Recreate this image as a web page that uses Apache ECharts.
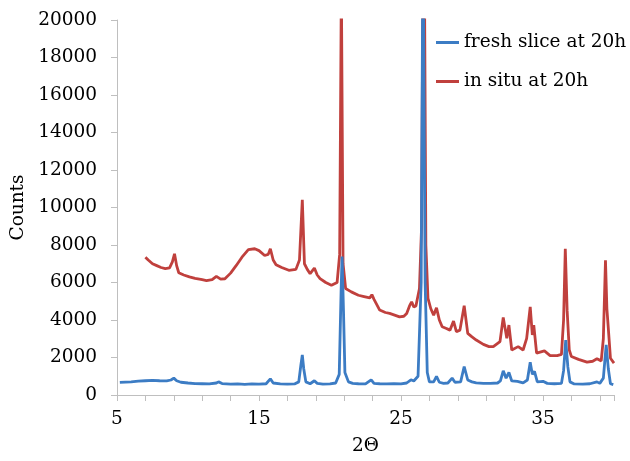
<!DOCTYPE html>
<html>
<head>
<meta charset="utf-8">
<script src="https://cdn.jsdelivr.net/npm/echarts@6/dist/echarts.min.js"></script>
<style>
html,body{margin:0;padding:0;background:#fff;}
#chart{width:630px;height:461px;}
</style>
</head>
<body>
<div id="chart"></div>
<script>
var seriesNames = ["fresh slice at 20h", "in situ at 20h"];
var xTickLabels = [5, 15, 25, 35];
var yTickLabels = [0, 2000, 4000, 6000, 8000, 10000, 12000, 14000, 16000, 18000, 20000];

var xFresh = [5.2,5.6,6.0,6.5,7.0,7.5,8.0,8.5,8.8,9.0,9.2,9.5,10.0,10.5,11.0,11.5,12.0,12.15,12.4,13.0,13.5,14.0,14.5,15.0,15.5,15.8,16.0,16.5,17.0,17.5,17.8,17.95,18.05,18.15,18.3,18.6,18.9,19.1,19.5,20.0,20.4,20.65,20.78,20.85,20.95,21.05,21.3,21.6,22.0,22.5,22.9,23.1,23.5,24.0,24.5,25.0,25.4,25.7,25.9,26.2,26.42,26.55,26.7,26.85,27.0,27.3,27.5,27.7,28.0,28.3,28.6,28.8,29.2,29.45,29.7,30.0,30.3,30.8,31.3,31.8,32.0,32.2,32.4,32.6,32.8,33.2,33.6,33.9,34.1,34.25,34.4,34.6,35.0,35.3,35.8,36.3,36.45,36.6,36.75,36.9,37.2,37.8,38.3,38.8,39.0,39.25,39.45,39.6,39.75,39.95];
var yFresh = [670,690,700,740,760,780,760,750,800,900,760,680,640,610,600,590,640,700,610,580,590,570,590,580,600,860,640,590,580,590,700,1600,2140,1400,700,600,760,620,580,590,640,1100,5500,7390,4500,1200,700,620,600,590,810,620,600,590,600,590,640,810,750,1000,6000,25000,6000,1200,700,700,990,680,620,640,900,680,700,1520,800,700,650,620,620,640,750,1290,900,1200,750,730,650,800,1750,1100,1260,700,730,620,600,620,1300,2930,1500,700,590,580,600,700,620,900,2670,1400,600,550];

var xInsitu = [7.0,7.2,7.5,7.8,8.1,8.4,8.7,8.9,9.05,9.2,9.35,9.7,10.1,10.5,11.0,11.3,11.7,12.0,12.3,12.6,13.0,13.4,13.8,14.25,14.7,15.0,15.4,15.65,15.8,16.0,16.2,16.6,17.1,17.6,17.85,18.05,18.2,18.4,18.6,18.9,19.1,19.3,19.7,20.1,20.5,20.68,20.8,20.92,21.1,21.5,22.0,22.4,22.8,22.95,23.1,23.5,23.9,24.2,24.6,24.9,25.2,25.4,25.6,25.75,25.9,26.05,26.3,26.45,26.6,26.75,26.9,27.1,27.3,27.5,27.7,27.9,28.2,28.45,28.7,28.9,29.15,29.45,29.7,30.0,30.3,30.8,31.2,31.5,31.97,32.2,32.45,32.6,32.8,33.25,33.6,33.85,34.1,34.25,34.35,34.55,35.1,35.5,36.0,36.3,36.45,36.57,36.7,36.85,37.0,37.5,38.1,38.5,38.8,39.1,39.25,39.4,39.5,39.6,39.75,40.0];
var yInsitu = [7350,7200,7000,6900,6800,6740,6780,7100,7530,6900,6520,6400,6300,6220,6150,6100,6150,6330,6180,6200,6500,6910,7350,7750,7800,7700,7440,7500,7800,7200,6950,6800,6650,6700,7200,10410,7000,6700,6470,6770,6400,6210,6000,5850,6000,7500,22000,7000,5680,5500,5320,5250,5180,5350,5100,4530,4400,4350,4250,4170,4200,4350,4750,4970,4700,4750,5680,9000,30000,8000,5150,4600,4260,4650,4000,3640,3550,3460,3940,3380,3460,4760,3290,3100,2930,2700,2580,2580,2850,4140,3020,3730,2400,2580,2400,3020,4700,3200,3730,2230,2350,2100,2100,2170,4000,7800,4500,2400,2050,1900,1750,1800,1930,1820,3000,7180,4600,3550,1960,1700];

function pairs(xs, ys) { return xs.map(function (x, i) { return [x, ys[i]]; }); }

var FONT = "DejaVu Serif";
var FS = 18.5;
var axisGray = "#BFBFBF";
var chart = echarts.init(document.getElementById("chart"), null, {renderer: "canvas"});
chart.setOption({
  animation: false,
  backgroundColor: "#ffffff",
  grid: {left: 117, right: 16, top: 20, bottom: 64, containLabel: false},
  legend: {
    orient: "vertical",
    left: 436,
    top: 33,
    padding: 0,
    itemWidth: 23,
    itemHeight: 3,
    itemGap: 20,
    icon: "rect",
    data: seriesNames,
    textStyle: {fontFamily: FONT, fontSize: FS, color: "#000"}
  },
  xAxis: {
    type: "value",
    min: 5,
    max: 40,
    interval: 2,
    name: "2Θ",
    nameLocation: "middle",
    nameGap: 42,
    nameTextStyle: {fontFamily: FONT, fontSize: FS, color: "#000"},
    axisLine: {lineStyle: {color: axisGray, width: 1}},
    axisTick: {show: true, inside: false, length: 6, lineStyle: {color: axisGray}},
    splitLine: {show: false},
    axisLabel: {
      fontFamily: FONT, fontSize: FS, color: "#000", margin: 15,
      formatter: function (v) { return xTickLabels.indexOf(v) >= 0 ? String(v) : ""; }
    }
  },
  yAxis: {
    type: "value",
    min: 0,
    max: 20000,
    interval: 2000,
    name: "Counts",
    nameLocation: "middle",
    nameGap: 79,
    nameRotate: 90,
    nameTextStyle: {fontFamily: FONT, fontSize: FS, color: "#000"},
    axisLine: {show: true, lineStyle: {color: axisGray, width: 1}},
    axisTick: {show: true, inside: false, length: 6, lineStyle: {color: axisGray}},
    splitLine: {show: false},
    axisLabel: {
      fontFamily: FONT, fontSize: FS, color: "#000", margin: 20,
      formatter: function (v) { return yTickLabels.indexOf(v) >= 0 ? String(v) : ""; }
    }
  },
  series: [
    {
      name: seriesNames[0], type: "line", data: pairs(xFresh, yFresh),
      showSymbol: false, symbol: "none", clip: true, z: 3,
      lineStyle: {color: "#3C7CC4", width: 2.8},
      itemStyle: {color: "#3C7CC4"}
    },
    {
      name: seriesNames[1], type: "line", data: pairs(xInsitu, yInsitu),
      showSymbol: false, symbol: "none", clip: true, z: 2,
      lineStyle: {color: "#C0403D", width: 2.8},
      itemStyle: {color: "#C0403D"}
    }
  ]
});
</script>
</body>
</html>
